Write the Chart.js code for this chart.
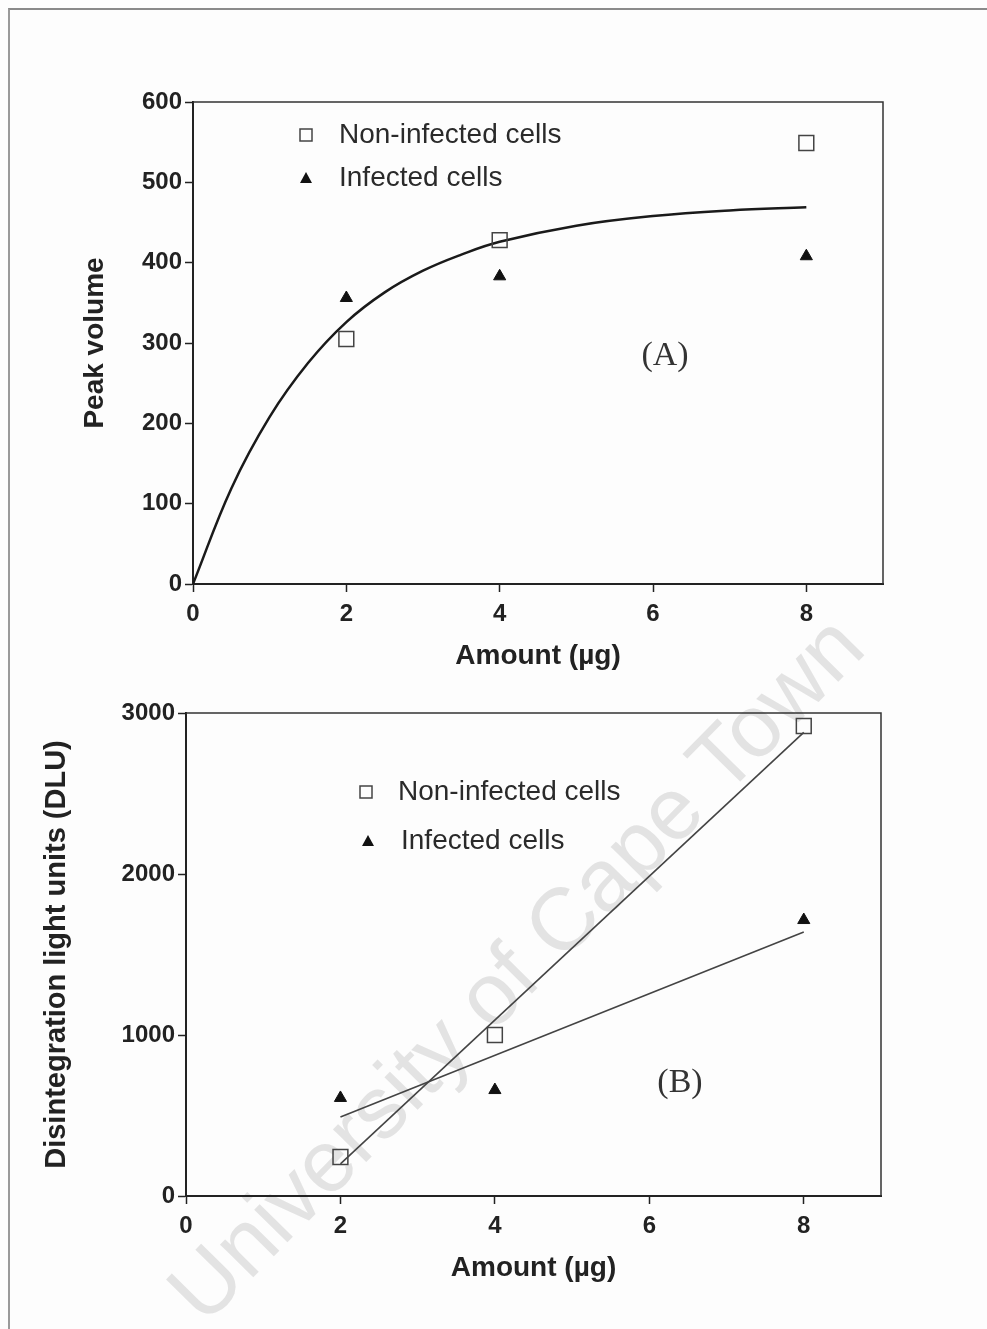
<!DOCTYPE html>
<html>
<head>
<meta charset="utf-8">
<script src="https://cdn.jsdelivr.net/npm/chart.js@4"></script>
<style>
  html, body { margin: 0; padding: 0; background: #fdfdfd; }
  #page { position: relative; width: 987px; height: 1329px; overflow: hidden; }
  #frame { position: absolute; left: 8px; top: 8px; right: 0; bottom: 0;
           border-top: 2px solid #8a8a8a; border-left: 2px solid #9a9a9a; }
  #mark { position: absolute; left: 515px; top: 968px; white-space: nowrap;
          font-family: 'Liberation Sans', Arial, sans-serif; font-size: 88px;
          color: #e3e3e3; transform: translate(-50%, -50%) rotate(-45.5deg); z-index: 0; }
  #boxA { position: absolute; left: 0; top: 0; width: 987px; height: 680px; z-index: 1; }
  #boxB { position: absolute; left: 0; top: 680px; width: 987px; height: 649px; z-index: 1; }
</style>
</head>
<body>
<div id="page">
  <div id="frame"></div>
  <div id="mark">University of Cape Town</div>
  <div id="boxA"><canvas id="chartA"></canvas></div>
  <div id="boxB"><canvas id="chartB"></canvas></div>
</div>
<script>
document.addEventListener('DOMContentLoaded', function () {
    // Panel A - peak volume
    const amountA = [2, 4, 8];
    const nonInfectedA = [305, 428, 549];
    const infectedA = [356, 383, 408];
    const curveAx = [0, 0.5, 1, 1.5, 2, 2.5, 3, 3.5, 4, 5, 6, 7, 8];
    const curveAy = [0, 119, 208, 275, 326, 363, 390, 410, 426, 446, 458, 465, 469];

    // Panel B - DLU
    const amountB = [2, 4, 8];
    const nonInfectedB = [242, 1000, 2919];
    const infectedB = [609, 658, 1714];
    const fitNonBx = [2, 8];
    const fitNonBy = [200, 2880];
    const fitInfBx = [2, 8];
    const fitInfBy = [490, 1640];

    const xTicks = [0, 2, 4, 6, 8];

    const pts = (xs, ys) => xs.map((x, i) => ({ x: x, y: ys[i] }));
    const sans = "'Liberation Sans', Arial, sans-serif";
    const ink = '#222';

    // box around the plot + legend + panel letter
    const decor = {
        id: 'decor',
        afterDraw(chart, args, opts) {
            const ctx = chart.ctx;
            const a = chart.chartArea;
            ctx.save();
            ctx.strokeStyle = '#333';
            ctx.lineWidth = 1.5;
            ctx.beginPath();
            ctx.moveTo(a.left, a.top);
            ctx.lineTo(a.right, a.top);
            ctx.lineTo(a.right, a.bottom);
            ctx.stroke();

            ctx.font = '28px ' + sans;
            ctx.fillStyle = '#2a2a2a';
            ctx.textBaseline = 'middle';
            opts.items.forEach(function (it) {
                if (it.shape === 'square') {
                    ctx.strokeStyle = '#444';
                    ctx.lineWidth = 1.5;
                    ctx.strokeRect(it.mx - 6, it.my - 6, 12, 12);
                } else {
                    ctx.fillStyle = '#111';
                    ctx.beginPath();
                    ctx.moveTo(it.mx, it.my - 6);
                    ctx.lineTo(it.mx + 6, it.my + 5);
                    ctx.lineTo(it.mx - 6, it.my + 5);
                    ctx.closePath();
                    ctx.fill();
                    ctx.fillStyle = '#2a2a2a';
                }
                ctx.fillText(it.text, it.tx, it.my);
            });

            ctx.font = "34px 'Liberation Serif', 'Times New Roman', serif";
            ctx.fillStyle = '#333';
            ctx.textAlign = 'center';
            ctx.fillText(opts.letter.text, opts.letter.x, opts.letter.y);
            ctx.restore();
        }
    };

    function axes(yMax, yStep, yWidth, xHeight, yTitle, ySize, titlePad) {
        return {
            x: {
                type: 'linear', min: 0, max: 9,
                afterBuildTicks: s => { s.ticks = xTicks.map(v => ({ value: v })); },
                afterFit: s => { s.height = xHeight; },
                grid: { drawOnChartArea: false, tickLength: 8, tickColor: ink, tickWidth: 1.5 },
                border: { color: ink, width: 2 },
                ticks: { color: ink, padding: 8, font: { family: sans, size: 24, weight: 'bold' } },
                title: { display: true, text: 'Amount (\u00b5g)', color: ink,
                         font: { family: sans, size: 28, weight: 'bold' }, padding: { top: 0, bottom: titlePad } }
            },
            y: {
                type: 'linear', min: 0, max: yMax,
                ticks: { stepSize: yStep, color: ink, padding: 3,
                         callback: v => String(v),
                         font: { family: sans, size: 24, weight: 'bold' } },
                afterFit: s => { s.width = yWidth; },
                grid: { drawOnChartArea: false, tickLength: 8, tickColor: ink, tickWidth: 1.5 },
                border: { color: ink, width: 2 },
                title: { display: true, text: yTitle, color: ink,
                         font: { family: sans, size: ySize, weight: 'bold' }, padding: { top: 0, bottom: 0 } }
            }
        };
    }

    const ctxA = document.getElementById('chartA').getContext('2d');
    new Chart(ctxA, {
        type: 'scatter',
        data: {
            datasets: [{
                label: 'Non-infected cells',
                data: pts(amountA, nonInfectedA),
                pointStyle: 'rect', pointRadius: 10.5,
                borderColor: '#444', borderWidth: 1.5, backgroundColor: 'rgba(0,0,0,0)'
            }, {
                label: 'Infected cells',
                data: pts(amountA, infectedA),
                pointStyle: 'triangle', pointRadius: 7,
                borderColor: '#111', borderWidth: 1, backgroundColor: '#111'
            }, {
                label: 'fit',
                data: pts(curveAx, curveAy),
                showLine: true, pointRadius: 0, tension: 0.4,
                borderColor: '#1a1a1a', borderWidth: 2.5, fill: false
            }]
        },
        options: {
            responsive: true,
            maintainAspectRatio: false,
            animation: false,
            layout: { padding: { left: 78, right: 104, top: 102, bottom: 0 } },
            scales: axes(600, 100, 115, 96, 'Peak volume', 28, 7),
            plugins: {
                legend: { display: false },
                tooltip: { enabled: false },
                decor: {
                    items: [
                        { shape: 'square', text: 'Non-infected cells', mx: 306, my: 135, tx: 339 },
                        { shape: 'triangle', text: 'Infected cells', mx: 306, my: 178, tx: 339 }
                    ],
                    letter: { text: '(A)', x: 665, y: 356 }
                }
            }
        },
        plugins: [decor]
    });

    const ctxB = document.getElementById('chartB').getContext('2d');
    new Chart(ctxB, {
        type: 'scatter',
        data: {
            datasets: [{
                label: 'Non-infected cells',
                data: pts(amountB, nonInfectedB),
                pointStyle: 'rect', pointRadius: 10.5,
                borderColor: '#444', borderWidth: 1.5, backgroundColor: 'rgba(0,0,0,0)'
            }, {
                label: 'Infected cells',
                data: pts(amountB, infectedB),
                pointStyle: 'triangle', pointRadius: 7,
                borderColor: '#111', borderWidth: 1, backgroundColor: '#111'
            }, {
                label: 'fit non-infected',
                data: pts(fitNonBx, fitNonBy),
                showLine: true, pointRadius: 0,
                borderColor: '#444', borderWidth: 1.6, fill: false
            }, {
                label: 'fit infected',
                data: pts(fitInfBx, fitInfBy),
                showLine: true, pointRadius: 0,
                borderColor: '#444', borderWidth: 1.6, fill: false
            }]
        },
        options: {
            responsive: true,
            maintainAspectRatio: false,
            animation: false,
            layout: { padding: { left: 40, right: 106, top: 33, bottom: 0 } },
            scales: axes(3000, 1000, 146, 133, 'Disintegration light units (DLU)', 29, 44),
            plugins: {
                legend: { display: false },
                tooltip: { enabled: false },
                decor: {
                    items: [
                        { shape: 'square', text: 'Non-infected cells', mx: 366, my: 112, tx: 398 },
                        { shape: 'triangle', text: 'Infected cells', mx: 368, my: 161, tx: 401 }
                    ],
                    letter: { text: '(B)', x: 680, y: 403 }
                }
            }
        },
        plugins: [decor]
    });
});
</script>
</body>
</html>
